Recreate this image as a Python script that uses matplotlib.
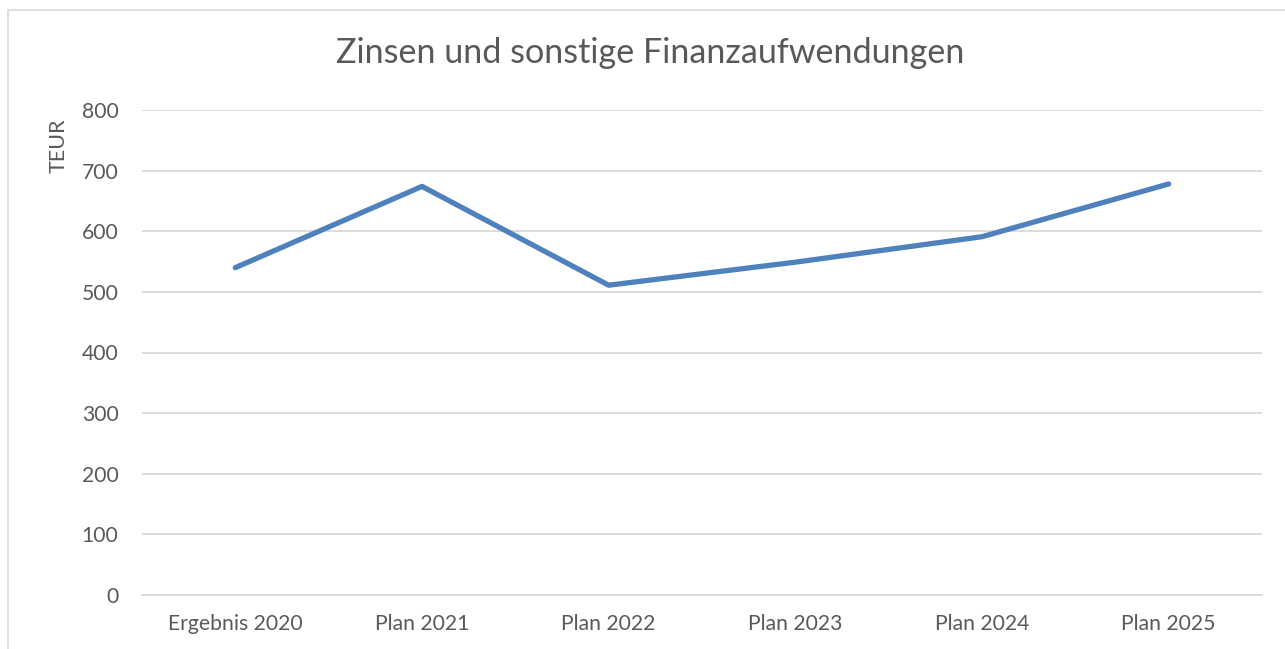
import matplotlib
matplotlib.use("Agg")
import matplotlib.pyplot as plt
from matplotlib.patches import Rectangle

categories = ["Ergebnis 2020", "Plan 2021", "Plan 2022", "Plan 2023", "Plan 2024", "Plan 2025"]
values = [540, 674, 511, 549, 591, 678]
yticks = [0, 100, 200, 300, 400, 500, 600, 700, 800]

plt.rcParams['font.family'] = ['Lato', 'DejaVu Sans']
TXT = '#595959'

fig = plt.figure(figsize=(12.85, 6.49), dpi=100)
fig.patches.append(Rectangle((8/1285, -0.01), 1.02, 1 - 10/649 + 0.01, transform=fig.transFigure,
                             fill=False, edgecolor='#d9d9d9', linewidth=1.2))

ax = fig.add_axes([142/1285, 54/649, 1120/1285, 485/649])
x = list(range(len(categories)))
ax.plot(x, values, color='#4f81bd', linewidth=3.8, solid_capstyle='round', solid_joinstyle='round', zorder=3)
ax.set_xlim(-0.5, len(categories) - 0.5)
ax.set_ylim(0, 800)
ax.set_yticks(yticks)
ax.set_xticks(x)
ax.set_xticklabels(categories)
ax.grid(axis='y', color='#d9d9d9', linewidth=1.3)
ax.set_axisbelow(True)
for s in ['top', 'right', 'left']:
    ax.spines[s].set_visible(False)
ax.spines['bottom'].set_color('#d9d9d9')
ax.spines['bottom'].set_linewidth(1.3)
ax.tick_params(axis='both', length=0, labelsize=15.2, labelcolor=TXT)
ax.tick_params(axis='y', pad=17)
ax.tick_params(axis='x', pad=14)

fig.text(650/1285, 1 - 53/649, "Zinsen und sonstige Finanzaufwendungen", ha='center', va='center',
         fontsize=24.6, color=TXT)
fig.text(59/1285, 1 - 146/649, "TEUR", rotation=90, ha='center', va='center', fontsize=15.5, color=TXT)

fig.savefig("out.png", dpi=100)
